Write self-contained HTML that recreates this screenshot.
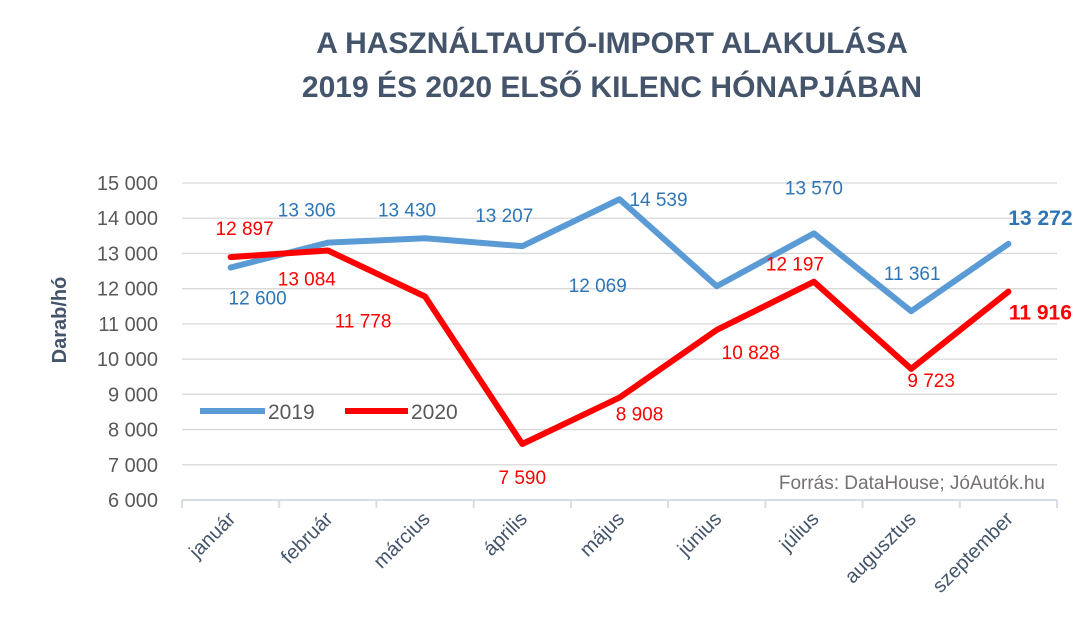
<!DOCTYPE html>
<html><head><meta charset="utf-8"><style>
body{margin:0;background:#fff;}
svg text{font-family:"Liberation Sans",sans-serif;}
</style></head><body>
<svg width="1085" height="626" viewBox="0 0 1085 626">
<text x="612" y="53" text-anchor="middle" font-size="30" font-weight="bold" fill="#44546a">A HASZNÁLTAUTÓ-IMPORT ALAKULÁSA</text>
<text x="612" y="97" text-anchor="middle" font-size="30" font-weight="bold" fill="#44546a">2019 ÉS 2020 ELSŐ KILENC HÓNAPJÁBAN</text>
<text transform="translate(66,320) rotate(-90)" text-anchor="middle" font-size="20" font-weight="bold" fill="#44546a">Darab/hó</text>
<g id="grid"></g><g id="axis"></g><g id="series"></g><g id="labels"></g>
<line x1="200" y1="411" x2="265" y2="411" stroke="#5b9bd5" stroke-width="6"/>
<text x="268" y="419" font-size="21" fill="#595959">2019</text>
<line x1="345" y1="411" x2="408" y2="411" stroke="#ff0000" stroke-width="6"/>
<text x="411" y="419" font-size="21" fill="#595959">2020</text>
<text x="1045" y="489" text-anchor="end" font-size="19" fill="#767171">Forrás: DataHouse; JóAutók.hu</text>
</svg>
<script>
const categories=["január","február","március","április","május","június","július","augusztus","szeptember"];
const values2019=[12600,13306,13430,13207,14539,12069,13570,11361,13272];
const values2020=[12897,13084,11778,7590,8908,10828,12197,9723,11916];
const yTicks=[6000,7000,8000,9000,10000,11000,12000,13000,14000,15000];
const off2019=[[27,30],[-21,-33],[-18,-29],[-18,-31],[39,0],[-119,-1],[0,-46],[1,-38],[32,-26]];
const off2020=[[14,-29],[-21,28],[-62,24],[0,33],[20,16],[34,22],[-19,-18],[20,11],[32,21]];
const NS="http://www.w3.org/2000/svg";
const x0=182,x1=1057,yMin=6000,yMax=15000,yTop=183,yBot=500;
const step=(x1-x0)/categories.length;
const X=i=>x0+step*(i+0.5);
const Y=v=>yBot-(v-yMin)/(yMax-yMin)*(yBot-yTop);
const fmt=v=>String(v).replace(/\B(?=(\d{3})+(?!\d))/g," ");
function mk(tag,attrs,parent){const e=document.createElementNS(NS,tag);for(const k in attrs)e.setAttribute(k,attrs[k]);document.getElementById(parent).appendChild(e);return e;}
yTicks.forEach(t=>{
  if(t>yMin){const g=mk("line",{x1:x0,x2:x1,y1:Y(t),y2:Y(t),stroke:"#d9d9d9","stroke-width":1.3},"grid");
  
  }
  const l=mk("text",{x:158,y:Y(t)+7,"text-anchor":"end","font-size":20,fill:"#595959"},"axis");
  l.textContent=fmt(t);
  
  
});
const ax=mk("line",{x1:x0,x2:x1,y1:yBot,y2:yBot,stroke:"#d9dde5","stroke-width":2},"axis");


for(let i=0;i<=categories.length;i++){
  const tk=mk("line",{x1:x0+step*i,x2:x0+step*i,y1:yBot,y2:yBot+8,stroke:"#d9dde5","stroke-width":2},"axis");
  
  
}
categories.forEach((c,i)=>{
  const t=mk("text",{transform:`translate(${X(i)+6},${yBot+20}) rotate(-45)`,"text-anchor":"end","font-size":20,fill:"#44546a"},"axis");
  t.textContent=c;
  
  
});
function series(vals,color,offs,lblColor,name){
  const p=mk("polyline",{points:vals.map((v,i)=>X(i)+","+Y(v)).join(" "),fill:"none",stroke:color,"stroke-width":6,"stroke-linejoin":"round","stroke-linecap":"round"},"series");
  
  
  vals.forEach((v,i)=>{
    const last=i===vals.length-1;
    const t=mk("text",{x:X(i)+offs[i][0],y:Y(v)+offs[i][1]+7,"text-anchor":"middle","font-size":last?21:19,"font-weight":last?"bold":"normal",fill:lblColor},"labels");
    t.textContent=fmt(v);
    
    
  });
}
series(values2019,"#5b9bd5",off2019,"#2e75b6","series-2019");
series(values2020,"#ff0000",off2020,"#ff0000","series-2020");
</script>
</body></html>
